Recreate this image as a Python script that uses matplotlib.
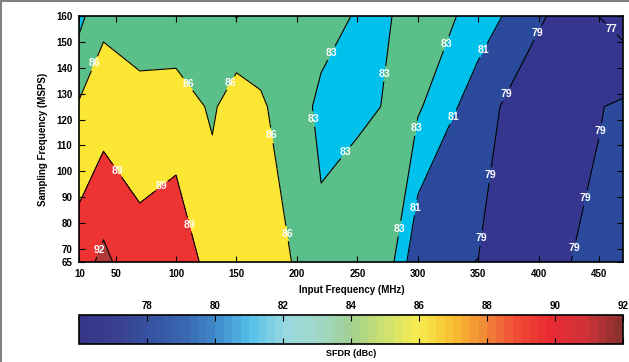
import matplotlib
matplotlib.use("Agg")
import matplotlib.pyplot as plt
import numpy as np
from matplotlib.colors import ListedColormap, LinearSegmentedColormap, Normalize
from matplotlib.cm import ScalarMappable
from matplotlib.lines import Line2D

plt.rcParams['font.family'] = ['Liberation Sans', 'DejaVu Sans']
plt.rcParams['font.weight'] = 'bold'

# measurement grid (input frequency x sampling frequency)
fin = [20, 40, 70, 100, 130, 150, 170, 220, 250, 280, 300, 350, 400, 450, 470]
fs = [65, 125, 160]
sfdr_65 = [90.63, 92.75, 89.79, 90.5, 88.16, 88.3, 88.5, 83.6, 83.72, 83.05, 79.27, 78.98, 78.62, 79.33, 79.6]
sfdr_125 = [86.33, 87.49, 87.71, 87.82, 85.52, 87.85, 86.45, 82.42, 82.82, 83.1, 83.27, 79.84, 77.5, 78.92, 79.3]
sfdr_160 = [82.21, 85.4, 83.37, 83.52, 84.5, 82.9, 84.0, 83.97, 82.79, 83.01, 84.6, 82.1, 79.3, 76.98, 76.12]

line_levels = [77, 79, 81, 83, 86, 89, 92]
fill_levels = [70, 77, 79, 81, 83, 86, 89, 92, 95]
fill_colors = ['#36368f', '#36368f', '#2b4a9c', '#00c0ec', '#5bbf8a', '#fae633', '#ee3333', '#b03a3a']

xtick_pos = [20, 50, 100, 150, 200, 250, 300, 350, 400, 450]
xtick_lab = ['10', '50', '100', '150', '200', '250', '300', '350', '400', '450']
ytick_pos = [65, 70, 80, 90, 100, 110, 120, 130, 140, 150, 160]

cbar_anchor = ['#36368a', '#3a4090', '#3553a0', '#3a68b0', '#3f8ccc', '#55c0ea', '#98d8e0',
               '#a0d8c8', '#a0d090', '#cce070', '#f8ec50', '#f8c030', '#f08838', '#f04a35',
               '#e82a35', '#d03238', '#8c3030']
cbar_ticks = [78, 80, 82, 84, 86, 88, 90, 92]

label_pos = [(33.4, 141.5), (109.7, 133.6), (145.5, 134), (180.8, 114), (193.2, 76.1),
             (51.4, 100.3), (88.7, 94), (111.6, 79.3), (36.5, 69.7),
             (228.8, 145.6), (273.7, 137.6), (213.5, 120.2), (241.2, 107), (326.6, 148.8),
             (298.5, 116.6), (283.9, 78), (357, 146), (331.3, 120.5), (301.2, 85.8),
             (398.3, 153.7), (372.9, 129.8), (359.7, 98.6), (353.3, 74.2), (451.5, 115.6),
             (439.1, 89.6), (429.4, 70.3), (459.8, 154.9)]

X, Y = np.meshgrid(fin, fs)
Z = np.array([sfdr_65, sfdr_125, sfdr_160])

fig = plt.figure(figsize=(6.29, 3.62), dpi=100)
ax = fig.add_axes([0.1261, 0.2762, 0.8649, 0.6796])

ax.contourf(X, Y, Z, levels=fill_levels, colors=fill_colors)
cs = ax.contour(X, Y, Z, levels=line_levels, colors='black', linewidths=0.8)
texts = ax.clabel(cs, inline=True, fmt='%d', colors='white', fontsize=7.5,
                  manual=label_pos, inline_spacing=2)
for t in texts:
    t.set_rotation(0)
    t.set_fontweight('bold')

ax.set_xlim(20, 470)
ax.set_ylim(65, 160)
ax.set_xticks(xtick_pos)
ax.set_xticklabels(xtick_lab)
ax.set_yticks(ytick_pos)
ax.tick_params(direction='in', top=True, right=True, length=4, labelsize=7, pad=5)
ax.set_xlabel('Input Frequency (MHz)', fontsize=7, fontweight='bold', labelpad=4)
ax.set_ylabel('Sampling Frequency (MSPS)', fontsize=7, fontweight='bold', labelpad=6)
for s in ax.spines.values():
    s.set_linewidth(1.2)

# colorbar
cax = fig.add_axes([0.1256, 0.0511, 0.8649, 0.0787])
cmap = ListedColormap(LinearSegmentedColormap.from_list('sfdr', cbar_anchor)(np.linspace(0, 1, 64)))
cb = fig.colorbar(ScalarMappable(norm=Normalize(76, 92), cmap=cmap), cax=cax, orientation='horizontal')
cb.set_ticks(cbar_ticks)
cb.outline.set_linewidth(1.2)
cax.tick_params(axis='x', direction='in', top=True, bottom=True, labeltop=True,
                labelbottom=False, length=4, labelsize=7, pad=3)
cax.xaxis.set_label_position('bottom')
cax.set_xlabel('SFDR (dBc)', fontsize=6.5, fontweight='bold', labelpad=4)

# figure frame
fig.add_artist(Line2D([0, 1], [0.996, 0.996], color='#808080', lw=1.5, transform=fig.transFigure))
fig.add_artist(Line2D([0.002, 0.002], [0, 1], color='#808080', lw=1.5, transform=fig.transFigure))

fig.savefig('out.png', dpi=100)
